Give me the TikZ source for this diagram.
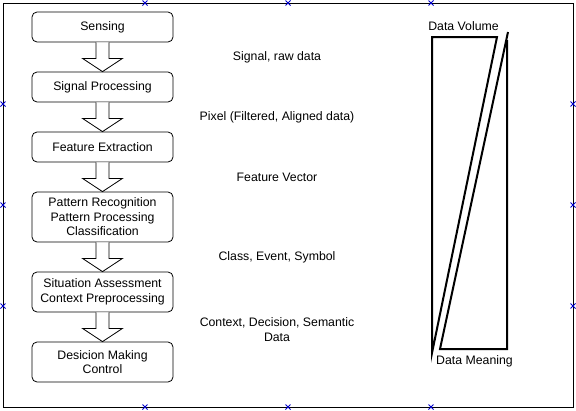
\documentclass[tikz,border=0pt]{standalone}
\usepackage{fontspec}
\setmainfont{Liberation Sans}
\usetikzlibrary{calc}
\begin{document}
\begin{tikzpicture}[x=1pt,y=-1pt,
  font=\fontsize{12.3}{14.5}\selectfont,
  stepbox/.style={draw=black,line width=0.8pt,rounded corners=5pt,minimum width=141pt,align=center,inner sep=0pt},
  blockarrow/.style={draw=black,line width=0.8pt,fill=white,line join=miter},
  lbl/.style={align=center,inner sep=0pt},
  tri/.style={draw=black,line width=2pt,line join=miter},
  handle/.style={draw=blue!80!black,line width=0.8pt}]
\useasboundingbox (0,0) rectangle (576,410);
\draw[line width=0.8pt] (3,3) rectangle (573,407);
% handles
\foreach \p in {(145,3),(288,3),(431,3),(145,407),(288,407),(431,407),(3,104),(3,205),(3,306),(573,104),(573,205),(573,306)}{
  \draw[handle] \p ++(-2.5,-2.5) -- ++(5,5) \p ++(-2.5,2.5) -- ++(5,-5);}
% boxes
\node[stepbox,minimum height=30pt] (s1) at (102.5,27) {Sensing};
\node[stepbox,minimum height=30pt] (s2) at (102.5,87) {Signal Processing};
\node[stepbox,minimum height=30pt] (s3) at (102.5,147) {Feature Extraction};
\node[stepbox,minimum height=50pt] (s4) at (102.5,217) {Pattern Recognition\\Pattern Processing\\Classification};
\node[stepbox,minimum height=40pt] (s5) at (102.5,292) {Situation Assessment\\Context Preprocessing};
\node[stepbox,minimum height=40pt] (s6) at (102.5,362) {Desicion Making\\Control};
% block arrows
\foreach \a/\b in {s1/s2,s2/s3,s3/s4,s4/s5,s5/s6}{
  \draw[blockarrow] ($(\a.south)+(-6.5,0)$) -- ($(\a.south)+(-6.5,16)$) -- ($(\a.south)+(-20,16)$)
    -- (\b.north) -- ($(\a.south)+(20,16)$) -- ($(\a.south)+(6.5,16)$) -- ($(\a.south)+(6.5,0)$);}
% labels
\node[lbl] (l1) at (277,57) {Signal, raw data};
\node[lbl] (l2) at (277,117) {Pixel (Filtered, Aligned data)};
\node[lbl] (l3) at (277,177) {Feature Vector};
\node[lbl] (l4) at (277,257) {Class, Event, Symbol};
\node[lbl] (l5) at (277,329.5) {Context, Decision, Semantic\\Data};
% data volume / meaning
\draw[tri] (432,353) -- (432,37) -- (497,37) -- cycle;
\draw[tri] (508,32) -- (440,349) -- (507,349) -- (507,40);
\node[lbl] (dv) at (463.5,26.5) {Data Volume};
\node[lbl] (dm) at (474.5,361.5) {Data Meaning};
\end{tikzpicture}
\end{document}
